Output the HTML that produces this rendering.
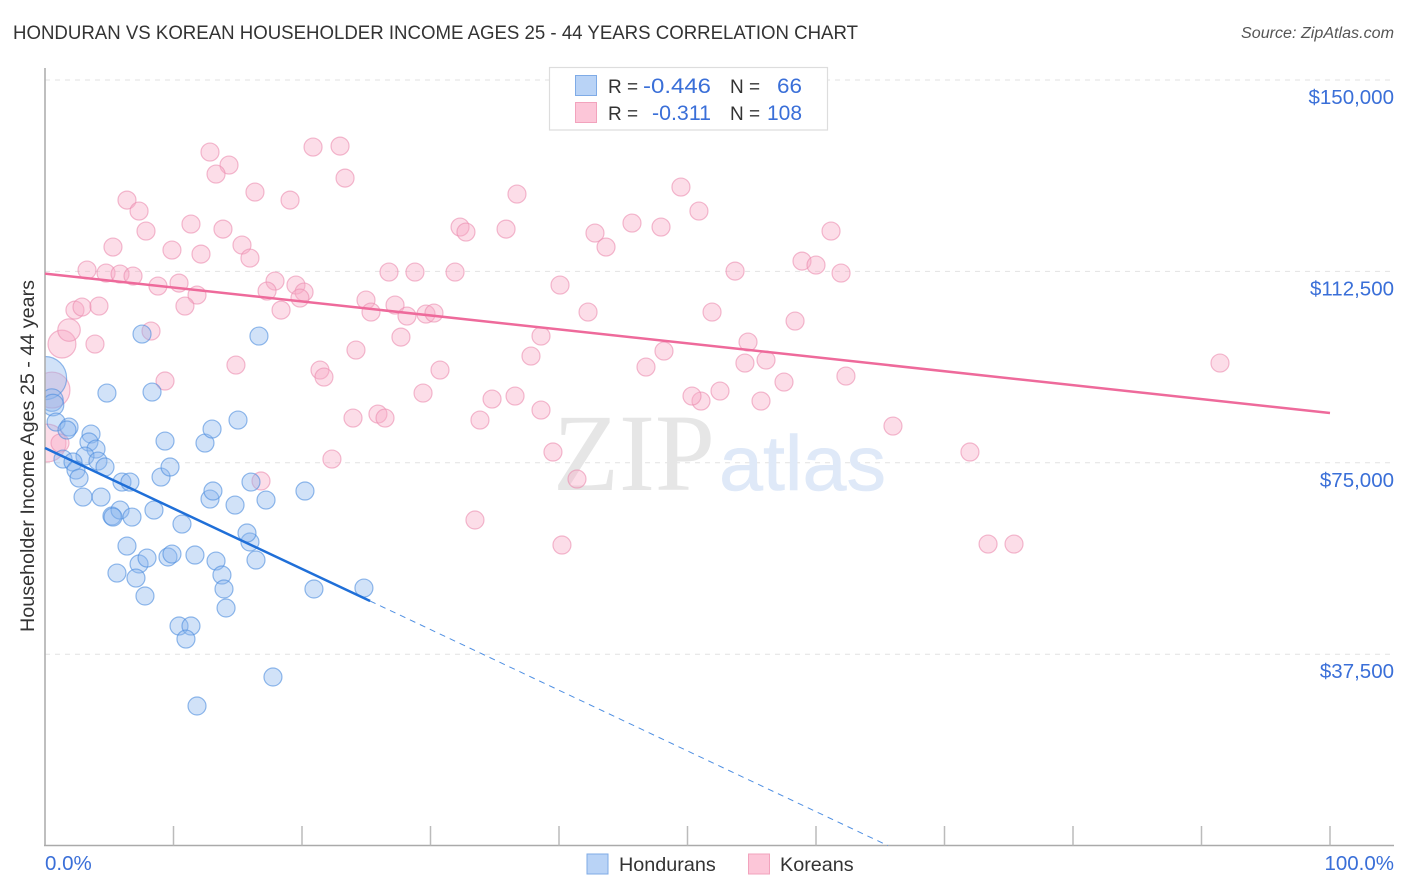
<!DOCTYPE html>
<html>
<head>
<meta charset="utf-8">
<title>Honduran vs Korean Householder Income Chart</title>
<style>
html,body{margin:0;padding:0;background:#fff;}
svg{display:block;font-family:"Liberation Sans",sans-serif;}
</style>
</head>
<body>
<svg id="chart" width="1406" height="892" viewBox="0 0 1406 892" xmlns="http://www.w3.org/2000/svg">
<text x="13" y="39" font-size="19.5" fill="#333" textLength="845" lengthAdjust="spacingAndGlyphs">HONDURAN VS KOREAN HOUSEHOLDER INCOME AGES 25 - 44 YEARS CORRELATION CHART</text>
<text x="1394" y="38" font-size="15.5" font-style="italic" fill="#555" text-anchor="end" textLength="153" lengthAdjust="spacingAndGlyphs">Source: ZipAtlas.com</text>
<g id="grid"></g>
<g>
<text x="553" y="490" font-family="'Liberation Serif',serif" font-size="110" fill="#e6e6e6" textLength="162" lengthAdjust="spacingAndGlyphs">ZIP</text>
<text x="719" y="490" font-size="78" fill="#dfe9f8" stroke="#dfe9f8" stroke-width="0.6" textLength="167" lengthAdjust="spacingAndGlyphs">atlas</text>
</g>
<svg x="45" y="68" width="1349" height="778" viewBox="45 68 1349 778" overflow="hidden">
<g id="koreans"></g>
<g id="hondurans"></g>
</svg>
<rect x="0" y="60" width="44.5" height="790" fill="#fff"/>
<text transform="translate(34,456) rotate(-90)" font-size="19" fill="#333" text-anchor="middle" textLength="352" lengthAdjust="spacingAndGlyphs">Householder Income Ages 25 - 44 years</text>
<g id="axes"></g>
<g id="trends"></g>
<g font-size="19">
<rect x="549.5" y="67.5" width="278" height="62.5" fill="#fff" stroke="#ddd" stroke-width="1.2"/>
<rect x="575.5" y="75.5" width="21" height="20" fill="#b9d3f6" stroke="#7fabe6"/>
<rect x="575.5" y="102.5" width="21" height="20" fill="#fcc6d8" stroke="#f2a3bd"/>
<text x="608" y="93" fill="#333">R =</text>
<text x="643" y="93" fill="#3a6fd8" font-size="21.5" textLength="68" lengthAdjust="spacingAndGlyphs">-0.446</text>
<text x="730" y="93" fill="#333">N =</text>
<text x="777" y="93" fill="#3a6fd8" font-size="21.5" textLength="25" lengthAdjust="spacingAndGlyphs">66</text>
<text x="608" y="120" fill="#333">R =</text>
<text x="652" y="120" fill="#3a6fd8" font-size="21.5" textLength="59" lengthAdjust="spacingAndGlyphs">-0.311</text>
<text x="730" y="120" fill="#333">N =</text>
<text x="767" y="120" fill="#3a6fd8" font-size="21.5" textLength="35" lengthAdjust="spacingAndGlyphs">108</text>
</g>
<g font-size="19.8" fill="#333">
<rect x="587" y="854" width="21" height="20" fill="#b9d3f6" stroke="#7fabe6"/>
<text x="619" y="871">Hondurans</text>
<rect x="748.5" y="854" width="21" height="20" fill="#fcc6d8" stroke="#f2a3bd"/>
<text x="780" y="871">Koreans</text>
</g>
</svg>
<script>
const yTicks = [37500, 75000, 112500, 150000];
const yTickLabels = ["$37,500", "$75,000", "$112,500", "$150,000"];
const xTicks = [0, 10, 20, 30, 40, 50, 60, 70, 80, 90, 100];
const xEndLabels = ["0.0%", "100.0%"];

const honduranX = [0,0.54,0.62,0.86,1.87,1.71,3.58,3.42,3.97,1.40,3.11,4.12,2.18,4.67,2.41,2.65,2.96,4.36,5.99,6.61,5.21,5.84,5.29,6.77,8.48,10.66,6.38,5.60,7.32,7.94,7.08,7.78,9.57,9.88,11.67,13.31,13.77,13.93,14.09,10.43,11.36,10.97,11.83,17.74,20.93,24.82,16.42,15.95,15.72,12.84,13.07,14.79,16.03,17.20,20.23,9.03,9.73,12.45,13.00,15.02,9.34,8.33,4.82,7.55,16.65];
const honduranY = [91600,87290,86310,82980,82000,81420,80630,79070,77690,75730,76320,75340,75150,74170,73580,72010,68290,68290,71230,71230,64570,65740,64370,64370,65740,63000,58690,53400,55170,56340,52420,48900,56540,57120,56930,55750,53010,50270,46550,43020,43020,40470,27350,33030,50270,50460,55950,59480,61240,67900,69470,66720,71230,67700,69470,72210,74170,78870,81610,83370,79260,88860,88660,100220,99830];
const honduranWeight = [2.4,1.25,1.2];

const koreanX = [0.54,0.16,1.32,1.87,12.84,14.32,13.31,20.86,22.96,23.35,16.34,19.07,6.38,7.32,7.86,11.36,13.85,9.88,5.29,12.14,15.33,15.95,3.27,4.75,5.84,6.85,8.79,10.43,11.83,10.89,17.90,17.28,19.53,20.16,19.84,18.37,24.98,25.37,26.77,28.79,31.91,27.24,28.17,29.65,30.27,27.70,24.20,21.40,21.71,14.86,9.34,8.25,2.33,2.88,4.20,3.89,1.17,30.74,29.42,23.97,25.91,26.46,33.85,34.79,36.58,38.60,37.82,38.60,39.53,41.40,33.46,40.23,16.81,22.33,32.30,32.76,35.88,36.73,40.08,42.26,42.80,43.66,45.68,47.94,49.49,50.89,53.70,51.91,54.71,54.47,56.11,57.51,55.72,52.53,51.05,50.35,46.77,48.17,58.91,60.00,61.95,61.17,58.37,62.33,65.99,71.98,73.39,75.41,91.44];
const koreanY = [89250,78870,98260,101010,135880,133330,131570,136860,137050,130780,128040,126470,126470,124320,120400,121770,120790,116680,117270,115890,117660,115110,112760,112170,111980,111590,109630,110210,107860,105710,110610,108650,109820,108450,107280,104920,106880,104530,112370,112370,112370,105900,103750,104140,104340,99630,97090,93170,91800,94150,91020,100810,104920,105510,105710,98260,78870,93170,88660,83770,84550,83770,83370,87490,88080,85330,95910,99830,77110,71820,63790,58890,71430,75730,121190,120210,120790,127650,109820,104530,120010,117270,121970,121190,129020,124320,112560,104530,98660,94540,95130,90820,87100,89060,87100,88080,93760,96890,114520,113740,112170,120400,102770,91990,82200,77110,59080,59080,94540];
const koreanWeight = [2.0,2.1,1.55,1.25];

const honduranTrendX = [0, 25.3];
const honduranTrendY = [77890, 47920];
const honduranProjectionX = [25.3, 65.6];
const honduranProjectionY = [47920, 0];
const koreanTrendX = [0, 100];
const koreanTrendY = [112070, 84750];

const NS = "http://www.w3.org/2000/svg";
const xScale = v => 45 + v * 12.85;
const yScale = v => 845.6 - v * 191.4 / 37500;
const BASE_R = 9;

function mk(parent, tag, attrs, text) {
  const el = document.createElementNS(NS, tag);
  for (const k in attrs) el.setAttribute(k, attrs[k]);
  if (text !== undefined) el.textContent = text;
  parent.appendChild(el);
  return el;
}

const grid = document.getElementById("grid");
const axes = document.getElementById("axes");
const trends = document.getElementById("trends");

yTicks.forEach((t, i) => {
  const y = yScale(t);
  const line = mk(grid, "line", {x1: 45, x2: 1394, y1: y, y2: y, stroke: "#e2e2e2", "stroke-width": 1, "stroke-dasharray": "5 5"});
  
  
  const label = mk(axes, "text", {x: 1394, y: y + 24, "text-anchor": "end", "font-size": 20.5, fill: "#3a6fd8"}, yTickLabels[i]);
  
  
});

const yAxis = mk(axes, "line", {x1: 45, x2: 45, y1: 68, y2: 846, stroke: "#aaa", "stroke-width": 1.5});


const xAxis = mk(axes, "line", {x1: 44, x2: 1394, y1: 845.5, y2: 845.5, stroke: "#aaa", "stroke-width": 1.5});



xTicks.slice(1).forEach(t => {
  const x = xScale(t);
  const tick = mk(axes, "line", {x1: x, x2: x, y1: 826, y2: 845.5, stroke: "#bbb", "stroke-width": 1.5});
  
  
});

const xLabelStart = mk(axes, "text", {x: 45, y: 870, "font-size": 20.5, fill: "#3a6fd8"}, xEndLabels[0]);


const xLabelEnd = mk(axes, "text", {x: 1394, y: 870, "font-size": 20.5, fill: "#3a6fd8", "text-anchor": "end"}, xEndLabels[1]);



const koreanGroup = document.getElementById("koreans");
koreanX.forEach((v, i) => {
  const dot = mk(koreanGroup, "circle", {cx: xScale(v), cy: yScale(koreanY[i]), r: BASE_R * (koreanWeight[i] || 1), fill: "rgba(248,170,197,0.4)", stroke: "rgba(235,140,175,0.6)", "stroke-width": 1.2});
  
  
});

const honduranGroup = document.getElementById("hondurans");
honduranX.forEach((v, i) => {
  const dot = mk(honduranGroup, "circle", {cx: xScale(v), cy: yScale(honduranY[i]), r: BASE_R * (honduranWeight[i] || 1), fill: "rgba(140,182,238,0.4)", stroke: "rgba(75,140,222,0.6)", "stroke-width": 1.2});
  
  
});

const koreanTrend = mk(trends, "line", {x1: xScale(koreanTrendX[0]), y1: yScale(koreanTrendY[0]), x2: xScale(koreanTrendX[1]), y2: yScale(koreanTrendY[1]), stroke: "#ee6a9b", "stroke-width": 2.5});


const honduranTrend = mk(trends, "line", {x1: xScale(honduranTrendX[0]), y1: yScale(honduranTrendY[0]), x2: xScale(honduranTrendX[1]), y2: yScale(honduranTrendY[1]), stroke: "#1f6fd8", "stroke-width": 2.5});


const honduranProjection = mk(trends, "line", {x1: xScale(honduranProjectionX[0]), y1: yScale(honduranProjectionY[0]), x2: xScale(honduranProjectionX[1]), y2: yScale(honduranProjectionY[1]), stroke: "#4f8fe2", "stroke-width": 1, "stroke-dasharray": "6 5"});


</script>
</body>
</html>
